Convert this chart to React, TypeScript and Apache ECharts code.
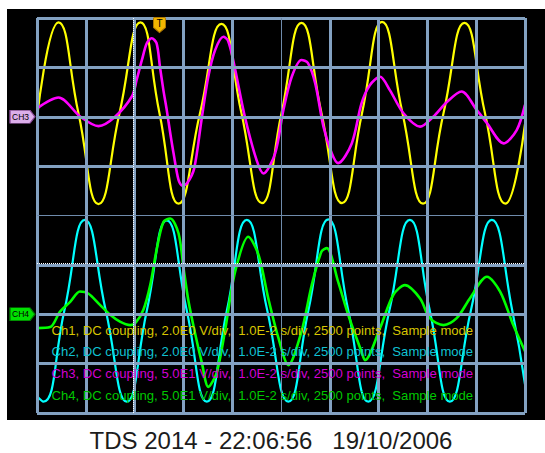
import React, { useEffect, useRef } from 'react';
import * as echarts from 'echarts';

// Screen divisions: x = 0..10 div (1.0E-2 s/div), y = -4..4 div
const xDivisions = { min: 0, max: 10, interval: 1 };
const yDivisions = { min: -4, max: 4, interval: 1 };

// Ch1 (yellow) [time div, screen div]
const ch1Points: [number, number][] = [
  [0, 1.98], [0.44, 3.91], [0.85, 2.07], [1.26, 0.23], [1.69, 2.07], [2.12, 3.91], [2.51, 2.07],
  [2.9, 0.24], [3.34, 2.07], [3.78, 3.88], [4.19, 2.07], [4.61, 0.25], [5.01, 2.07], [5.42, 3.9],
  [5.83, 2.07], [6.25, 0.25], [6.66, 2.07], [7.07, 3.92], [7.49, 2.07], [7.91, 0.24], [8.33, 2.07],
  [8.76, 3.9], [9.18, 2.07], [9.6, 0.24], [10, 1.85],
];

// Ch2 (cyan)
const ch2Points: [number, number][] = [
  [0, -3.66], [0.13, -3.77], [0.56, -1.93], [0.98, -0.09], [1.41, -1.93], [1.84, -3.77], [2.25, -1.93],
  [2.66, -0.1], [3.07, -1.93], [3.48, -3.77], [3.89, -1.93], [4.3, -0.09], [4.72, -1.93], [5.15, -3.77],
  [5.56, -1.93], [5.97, -0.08], [6.38, -1.93], [6.79, -3.77], [7.22, -1.93], [7.64, -0.09], [8.05, -1.93],
  [8.46, -3.77], [8.89, -1.93], [9.32, -0.09], [9.74, -1.93], [10, -3.42],
];

// Ch3 (magenta)
const ch3Points: [number, number][] = [
  [0, 2.17], [0.44, 2.39], [0.89, 2.0], [1.26, 1.81], [1.6, 2.0], [1.95, 2.42], [2.04, 2.74], [2.15, 3.15],
  [2.25, 3.49], [2.35, 3.59], [2.45, 3.49], [2.52, 3.01], [2.59, 2.54], [2.66, 2.13], [2.73, 1.67],
  [2.8, 1.25], [2.9, 0.72], [2.98, 0.6], [3.08, 0.66], [3.22, 0.95], [3.37, 1.93], [3.51, 2.81], [3.65, 3.35],
  [3.82, 3.62], [3.91, 3.55], [4.02, 3.15], [4.26, 2.0], [4.5, 1.12], [4.64, 0.85], [4.88, 1.26],
  [5.05, 2.14], [5.22, 2.81], [5.42, 3.15], [5.55, 3.09], [5.7, 2.68], [5.87, 1.8], [6.04, 1.26],
  [6.17, 1.06], [6.45, 1.46], [6.65, 2.27], [6.82, 2.64], [7.03, 2.81], [7.23, 2.54], [7.51, 2.07],
  [7.85, 1.8], [8.12, 2.0], [8.4, 2.3], [8.7, 2.51], [9.01, 2.14], [9.22, 1.87], [9.56, 1.46],
  [9.83, 1.73], [10, 2.24],
];

// Ch4 (green)
const ch4Points: [number, number][] = [
  [0, -2.28], [0.27, -2.26], [0.47, -1.95], [0.68, -1.75], [0.88, -1.54], [1.05, -1.58], [1.29, -1.81],
  [1.5, -2.01], [1.7, -2.15], [1.91, -2.22], [2.03, -2.16], [2.18, -1.91], [2.32, -1.41], [2.45, -0.7],
  [2.59, -0.13], [2.73, -0.06], [2.9, -0.36], [3.0, -1.04], [3.1, -1.71], [3.24, -2.39], [3.38, -2.99],
  [3.51, -3.47], [3.68, -3.19], [3.85, -2.35], [4.06, -1.14], [4.33, -0.43], [4.54, -0.8], [4.74, -1.68],
  [4.95, -2.49], [5.15, -3.03], [5.42, -2.35], [5.63, -1.41], [5.83, -0.73], [5.94, -0.66], [6.17, -1.34],
  [6.38, -2.02], [6.65, -2.76], [6.72, -2.93], [7.03, -2.28], [7.3, -1.61], [7.54, -1.41], [7.85, -1.68],
  [8.05, -2.08], [8.33, -2.22], [8.6, -2.08], [8.87, -1.68], [9.22, -1.24], [9.49, -1.54], [9.76, -2.22],
  [10, -2.75],
];

const channelNames = ['Ch1', 'Ch2', 'Ch3', 'Ch4'];
const traceColors = ['#ffff00', '#00ffff', '#ff00ff', '#00ff00'];
const textColors = ['#d8c600', '#10c2d2', '#d200d2', '#00c800'];
const channelInfo = [
  'Ch1, DC coupling, 2.0E0 V/div,  1.0E-2 s/div, 2500 points,  Sample mode',
  'Ch2, DC coupling, 2.0E0 V/div,  1.0E-2 s/div, 2500 points,  Sample mode',
  'Ch3, DC coupling, 5.0E1 V/div,  1.0E-2 s/div, 2500 points,  Sample mode',
  'Ch4, DC coupling, 5.0E1 V/div,  1.0E-2 s/div, 2500 points,  Sample mode',
];
const titleText = 'TDS 2014 - 22:06:56   19/10/2006';

// Reference levels / markers (in divisions)
const ch3Ground = 2;
const ch4Ground = -2;
const triggerTime = 2.51;
const cursorTime = 1.965;
const cursorLevel = -0.96;

const FONT = '"Liberation Sans", Arial, Helvetica, sans-serif';
const GRID_COLOR = '#83a1c1';

export default function App() {
  const ref = useRef<HTMLDivElement>(null);

  useEffect(() => {
    if (!ref.current) return;
    const chart = echarts.init(ref.current, undefined, { renderer: 'svg' });

    const xLineColors = Array.from({ length: 11 }, (_, i) => (i === 5 ? 'rgba(0,0,0,0)' : GRID_COLOR));
    const yLineColors = Array.from({ length: 9 }, (_, i) => (i === 4 ? 'rgba(0,0,0,0)' : GRID_COLOR));

    const allPoints = [ch1Points, ch2Points, ch3Points, ch4Points];

    const series: any[] = allPoints.map((pts, i) => ({
      type: 'line',
      name: channelNames[i],
      data: pts,
      smooth: i >= 2 ? 0.3 : 0.5,
      symbol: 'none',
      z: 2,
      lineStyle: { color: traceColors[i], width: i >= 2 ? 2.6 : 2.2 },
      emphasis: { disabled: true },
    }));

    series[0].markPoint = {
      silent: true,
      z: 6,
      data: [
        {
          coord: [triggerTime, yDivisions.max],
          symbol: 'path://M1,0 L11,0 Q12,0 12,1 L12,10 L6,15 L0,10 L0,1 Q0,0 1,0 Z',
          symbolSize: [12, 15],
          symbolOffset: [0, 7],
          itemStyle: { color: '#f2b600', borderColor: '#b07a00', borderWidth: 1 },
          label: { show: true, formatter: 'T', color: '#000', fontSize: 10, fontFamily: FONT, offset: [0, -1.5] },
        },
      ],
    };

    series[1].markLine = {
      silent: true,
      symbol: 'none',
      z: 5,
      label: { show: false },
      data: [
        { xAxis: 5, lineStyle: { color: '#6f8bab', width: 1, type: 'solid' } },
        { yAxis: 0, lineStyle: { color: '#6f8bab', width: 1, type: 'solid' } },
        { xAxis: cursorTime, lineStyle: { color: '#ffffff', width: 1, type: [1, 1] } },
        { yAxis: cursorLevel, lineStyle: { color: '#ffffff', width: 1, type: [1, 1] } },
      ],
    };

    const groundMarker = (level: number, text: string, fill: string, border: string) => ({
      silent: true,
      z: 6,
      data: [
        {
          coord: [xDivisions.min, level],
          symbol: 'path://M0,0 L20,0 L25,6.5 L20,13 L0,13 Z',
          symbolSize: [25, 13],
          symbolOffset: [-14.5, 0],
          itemStyle: { color: fill, borderColor: border, borderWidth: 1 },
          label: { show: true, formatter: text, color: '#000', fontSize: 8.5, fontFamily: FONT, offset: [-2, 0] },
        },
      ],
    });
    series[2].markPoint = groundMarker(ch3Ground, 'CH3', '#dcaeea', '#8c4c9c');
    series[3].markPoint = groundMarker(ch4Ground, 'CH4', '#00e000', '#007a00');

    const infoTexts = channelInfo.map((t, i) => ({
      type: 'text',
      z: 20,
      silent: true,
      style: {
        text: t,
        x: 51.5,
        y: 330 + i * 21.8,
        fill: textColors[i],
        fontSize: 13.1,
        fontFamily: FONT,
        textAlign: 'left',
        align: 'left',
        textVerticalAlign: 'middle',
        verticalAlign: 'middle',
      },
    }));

    chart.setOption({
      animation: false,
      backgroundColor: '#ffffff',
      grid: { left: 37, top: 18, width: 488, height: 395, show: false },
      xAxis: {
        type: 'value',
        min: xDivisions.min,
        max: xDivisions.max,
        interval: xDivisions.interval,
        z: 3,
        axisLine: { show: false },
        axisTick: { show: false },
        axisLabel: { show: false },
        splitLine: { show: true, lineStyle: { color: xLineColors, width: 3 } },
      },
      yAxis: {
        type: 'value',
        min: yDivisions.min,
        max: yDivisions.max,
        interval: yDivisions.interval,
        z: 3,
        axisLine: { show: false },
        axisTick: { show: false },
        axisLabel: { show: false },
        splitLine: { show: true, lineStyle: { color: yLineColors, width: 3 } },
      },
      graphic: {
        elements: [
          {
            type: 'rect',
            z: -10,
            silent: true,
            shape: { x: 7, y: 9, width: 538, height: 411 },
            style: { fill: '#000000' },
          },
          ...infoTexts,
          {
            type: 'text',
            z: 20,
            silent: true,
            style: {
              text: titleText,
              x: 271,
              y: 440.5,
              fill: '#1c1c1c',
              fontSize: 24,
              fontFamily: FONT,
              textAlign: 'center',
              align: 'center',
              textVerticalAlign: 'middle',
              verticalAlign: 'middle',
            },
          },
        ],
      },
      series,
    });

    return () => chart.dispose();
  }, []);

  return (
    <div
      ref={ref}
      style={{ position: 'fixed', left: 0, top: 0, width: 545, height: 453 }}
    />
  );
}
